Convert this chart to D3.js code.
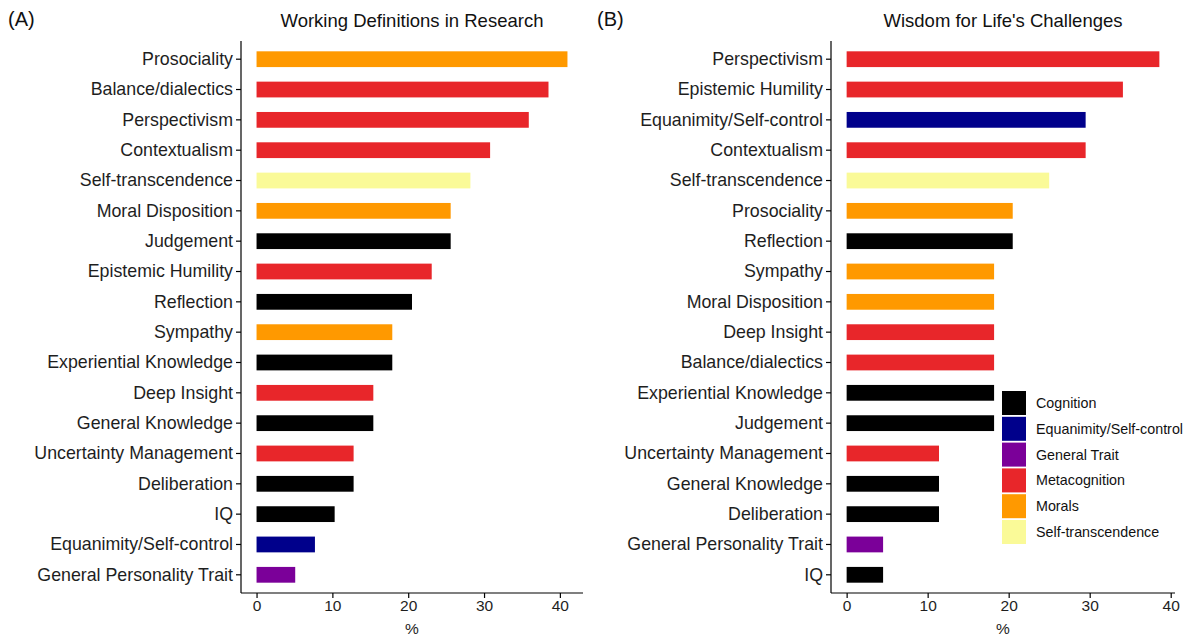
<!DOCTYPE html>
<html>
<head>
<meta charset="utf-8">
<script src="https://cdn.jsdelivr.net/npm/d3@7"></script>
<style>
  html, body { margin: 0; padding: 0; background: #fff; }
  svg { display: block; font-family: "Liberation Sans", Arial, Helvetica, sans-serif; }
</style>
</head>
<body>
<svg id="chart" width="1194" height="639"></svg>
<script>
// Wisdom component categories (legend order) and their fill colours
const groups = ["Cognition", "Equanimity/Self-control", "General Trait", "Metacognition", "Morals", "Self-transcendence"];
const groupColors = ["#000000", "#00008b", "#7b0099", "#e8262a", "#ff9900", "#fafa98"];

// Panel A: working definitions in research (% of definitions)
const researchComponents = ["Prosociality", "Balance/dialectics", "Perspectivism", "Contextualism", "Self-transcendence",
  "Moral Disposition", "Judgement", "Epistemic Humility", "Reflection", "Sympathy", "Experiential Knowledge",
  "Deep Insight", "General Knowledge", "Uncertainty Management", "Deliberation", "IQ",
  "Equanimity/Self-control", "General Personality Trait"];
const researchValues = [41.0, 38.5, 35.9, 30.8, 28.2, 25.6, 25.6, 23.1, 20.5, 17.9, 17.9, 15.4, 15.4, 12.8, 12.8, 10.3, 7.7, 5.1];
const researchGroups = ["Morals", "Metacognition", "Metacognition", "Metacognition", "Self-transcendence",
  "Morals", "Cognition", "Metacognition", "Cognition", "Morals", "Cognition",
  "Metacognition", "Cognition", "Metacognition", "Cognition", "Cognition",
  "Equanimity/Self-control", "General Trait"];

// Panel B: wisdom for life's challenges (% of sources)
const lifeComponents = ["Perspectivism", "Epistemic Humility", "Equanimity/Self-control", "Contextualism", "Self-transcendence",
  "Prosociality", "Reflection", "Sympathy", "Moral Disposition", "Deep Insight", "Balance/dialectics",
  "Experiential Knowledge", "Judgement", "Uncertainty Management", "General Knowledge", "Deliberation",
  "General Personality Trait", "IQ"];
const lifeValues = [38.6, 34.1, 29.5, 29.5, 25.0, 20.5, 20.5, 18.2, 18.2, 18.2, 18.2, 18.2, 18.2, 11.4, 11.4, 11.4, 4.5, 4.5];
const lifeGroups = ["Metacognition", "Metacognition", "Equanimity/Self-control", "Metacognition", "Self-transcendence",
  "Morals", "Cognition", "Morals", "Morals", "Metacognition", "Metacognition",
  "Cognition", "Cognition", "Metacognition", "Cognition", "Cognition",
  "General Trait", "Cognition"];

const xTicks = [0, 10, 20, 30, 40];

const svg = d3.select("#chart");
const color = d3.scaleOrdinal().domain(groups).range(groupColors);

function panel(opts) {
  const { tag, title, cats, vals, grps, left, right, top, bottom, tagX } = opts;
  const g = svg.append("g");
  const maxV = d3.max(vals);
  const x = d3.scaleLinear().domain([-0.05 * maxV, maxV * 1.05]).range([left, right]);
  const y = d3.scaleBand().domain(cats).range([top, bottom]).paddingInner(0.48).paddingOuter(0.34);

  // bars
  g.selectAll("rect.bar").data(cats).join("rect")
    .attr("class", "bar")
    .attr("x", x(0))
    .attr("y", d => y(d))
    .attr("width", (d, i) => x(vals[i]) - x(0))
    .attr("height", y.bandwidth())
    .attr("fill", (d, i) => color(grps[i]));

  // y axis
  const yAxis = g.append("g").attr("transform", `translate(${left},0)`)
    .call(d3.axisLeft(y).tickSize(5).tickPadding(3));
  yAxis.select(".domain").attr("d", `M0,${top}V${bottom}`).attr("stroke", "#000").attr("stroke-width", 1.2);
  yAxis.selectAll(".tick line").attr("stroke", "#000").attr("stroke-width", 1.2);
  yAxis.selectAll(".tick text").attr("fill", "#1e1e1e").style("font-size", "17.8px");

  // x axis
  const xAxis = g.append("g").attr("transform", `translate(0,${bottom})`)
    .call(d3.axisBottom(x).tickValues(xTicks).tickSize(5).tickPadding(2));
  xAxis.select(".domain").attr("d", `M${left},0H${right}`).attr("stroke", "#000").attr("stroke-width", 1.2);
  xAxis.selectAll(".tick line").attr("stroke", "#000").attr("stroke-width", 1.2);
  xAxis.selectAll(".tick text").attr("fill", "#1e1e1e").style("font-size", "15.5px");

  g.append("text").attr("x", (left + right) / 2).attr("y", 634)
    .attr("text-anchor", "middle").attr("fill", "#1e1e1e").style("font-size", "15.5px").text("%");

  g.append("text").attr("x", (left + right) / 2).attr("y", 27)
    .attr("text-anchor", "middle").attr("fill", "#111").style("font-size", "18.5px").text(title);

  g.append("text").attr("x", tagX).attr("y", 26)
    .attr("fill", "#111").style("font-size", "20px").text(tag);
}

panel({ tag: "(A)", title: "Working Definitions in Research", cats: researchComponents, vals: researchValues,
  grps: researchGroups, left: 241, right: 583, top: 41, bottom: 593, tagX: 8 });
panel({ tag: "(B)", title: "Wisdom for Life's Challenges", cats: lifeComponents, vals: lifeValues,
  grps: lifeGroups, left: 831, right: 1175, top: 41, bottom: 593, tagX: 597 });

// legend
const legend = svg.append("g").attr("transform", "translate(1002,391)");
const key = 24, keyStep = 25.8;
legend.selectAll("rect").data(groups).join("rect")
  .attr("x", 0).attr("y", (d, i) => i * keyStep)
  .attr("width", key).attr("height", key)
  .attr("fill", d => color(d));
legend.selectAll("text").data(groups).join("text")
  .attr("x", 34).attr("y", (d, i) => i * keyStep + key / 2)
  .attr("dy", "0.35em").attr("fill", "#111").style("font-size", "14.3px")
  .text(d => d);
</script>
</body>
</html>
